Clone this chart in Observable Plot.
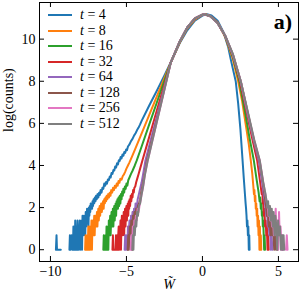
<!DOCTYPE html>
<html><head><meta charset="utf-8">
<script src="https://cdn.jsdelivr.net/npm/d3@7"></script>
<script src="https://cdn.jsdelivr.net/npm/@observablehq/plot@0.6"></script>
<style>
body{margin:0;background:#fff;}
#wrap{position:relative;width:300px;height:300px;font-family:"Liberation Serif",serif;color:#000;}
#wrap svg{display:block;}
.row{position:absolute;left:0;height:16px;}
.row .sw{position:absolute;left:48px;width:24px;height:2px;top:7px;}
.row .lab{position:absolute;left:80px;top:0;font-size:14px;line-height:16px;white-space:nowrap;}
.tag{position:absolute;right:8px;top:11px;font-size:22px;font-weight:bold;line-height:1;}
</style></head><body><div id="wrap"></div>
<script>
const seriesLabels = ["4","8","16","32","64","128","256","512"];
const seriesColors = ["#1f77b4","#ff7f0e","#2ca02c","#d62728","#9467bd","#8c564b","#e377c2","#7f7f7f"];
const xTicks = [-10,-5,0,5];
const yTicks = [0,2,4,6,8,10];

const t4 = [[-9.64,0],[-9.6,0.69],[-9.57,0],[-9.45,0],[-9.4,0],[-9.32,0],[-9.3,null],
[-8.75,0],[-8.72,0.69],[-8.68,0],[-8.6,0.69],[-8.56,0],[-8.52,0],[-8.49,1.1],[-8.46,0],[-8.43,0.69],[-8.4,0],[-8.37,1.39],[-8.34,0.69],[-8.31,0],[-8.28,1.1],[-8.25,0],[-8.22,1.39],[-8.19,0.69],[-8.16,0],[-8.13,1.1],[-8.1,0.69],[-8.07,1.39],[-8.04,0],[-8.01,1.1],[-7.98,0.69],[-7.95,1.39],[-7.92,0],[-7.89,1.61],[-7.86,1.1],[-7.83,0.69],[-7.8,1.61],[-7.77,1.1],[-7.74,1.39],[-7.71,0.69],[-7.68,1.79],[-7.65,1.1],[-7.62,1.39],[-7.59,1.95],[-7.56,1.39],[-7.53,1.79],[-7.5,1.1],[-7.47,2.0],[-7.44,1.61],[-7.41,2.08],[-7.38,1.79],[-7.35,2.2],[-7.32,1.95],[-7.29,2.2],[-7.26,1.95],[-7.23,2.3],[-7.2,2.08],[-7.16,2.4],[-7.12,2.2],[-7.08,2.48],[-7.04,2.3],[-7.0,2.56],[-6.95,2.4],[-6.9,2.64],[-6.85,2.48],[-6.8,2.71],[-6.75,2.6],[-6.7,2.83],[-6.64,2.71],[-6.58,2.94],[-6.52,2.89],[-6.46,3.14],[-6.4,3.04],[-6.34,3.22],[-6.28,3.14],[-6.22,3.33],[-6.16,3.3],[-6.1,3.47],[-6.04,3.43],[-5.98,3.64],[-5.92,3.6],[-5.86,3.78],[-5.8,3.76],[-5.74,3.95],[-5.68,3.9],[-5.62,4.1],[-5.56,4.05],[-5.5,4.25],[-5.44,4.22],[-5.38,4.4],[-5.32,4.34],[-5.26,4.52],[-5.2,4.46],[-5.14,4.64],[-5.08,4.6],[-5.02,4.76],[-4.96,4.73],[-4.9,4.9],[-4.8,5.0],[-4.7,5.16],[-4.6,5.26],[-4.5,5.42],[-4.4,5.53],[-4.3,5.68],[-4.2,5.8],[-4.1,5.95],[-4.0,6.12],[-3.5,6.85],[-3.0,7.55],[-2.5,8.28],[-2.08,8.9],[-1.5,9.8],[-1.0,10.42],[-0.5,10.88],[0,11.12],[0.3,11.18],[0.6,11.12],[1.0,10.87],[1.4,10.3],[1.7,9.6],[1.86,9.05],[2.0,8.6],[2.19,8.0],[2.35,6.95],[2.5,5.7],[2.63,4.35],[2.72,3.4],[2.8,2.6],[2.84,2.2],[2.87,1.95],[2.9,1.61],[2.93,1.1],[2.96,1.39],[2.99,0.69],[3.02,1.1],[3.05,0],[3.08,0.69],[3.1,0]];

const t8 = [[-7.72,0],[-7.69,0.69],[-7.66,0],[-7.6,0],[-7.57,0.69],[-7.54,0],[-7.51,1.1],[-7.48,0],[-7.45,0.69],[-7.42,1.1],[-7.39,0],[-7.36,1.1],[-7.33,0.69],[-7.3,1.39],[-7.27,0],[-7.24,1.1],[-7.21,1.39],[-7.18,0.69],[-7.15,1.1],[-7.12,1.61],[-7.09,0.69],[-7.06,1.39],[-7.03,1.61],[-7.0,1.1],[-6.97,1.39],[-6.94,1.79],[-6.91,1.1],[-6.88,1.61],[-6.85,1.95],[-6.82,1.39],[-6.79,1.79],[-6.76,2.08],[-6.73,1.61],[-6.7,1.95],[-6.66,2.2],[-6.62,1.79],[-6.58,2.08],[-6.54,2.3],[-6.5,1.95],[-6.46,2.4],[-6.42,2.2],[-6.38,2.48],[-6.34,2.3],[-6.3,2.56],[-6.25,2.4],[-6.2,2.64],[-6.15,2.48],[-6.1,2.71],[-6.05,2.56],[-6.0,2.83],[-5.94,2.71],[-5.88,2.94],[-5.82,2.83],[-5.76,3.04],[-5.7,2.94],[-5.64,3.14],[-5.58,3.04],[-5.52,3.26],[-5.46,3.18],[-5.4,3.37],[-5.32,3.33],[-5.24,3.5],[-5.16,3.58],[-5.08,3.71],[-5.0,3.85],[-4.9,4.0],[-4.8,4.15],[-4.6,4.48],[-4.4,4.82],[-4.1,5.35],[-3.6,6.22],[-3.0,7.28],[-2.5,8.16],[-2.08,8.9],[-1.5,9.83],[-1.0,10.5],[-0.5,10.93],[0,11.15],[0.2,11.18],[0.5,11.1],[1.0,10.8],[1.5,10.1],[2.0,9.05],[2.35,8.0],[2.6,7.1],[2.9,5.7],[3.05,5.0],[3.18,4.24],[3.28,3.6],[3.35,3.0],[3.39,2.64],[3.42,2.83],[3.45,2.3],[3.48,2.56],[3.51,1.95],[3.54,2.2],[3.57,1.61],[3.6,1.95],[3.63,1.1],[3.66,1.61],[3.69,0.69],[3.72,1.39],[3.75,0],[3.78,1.1],[3.81,0],[3.84,0.69],[3.87,0]];

const t16 = [[-6.52,0],[-6.49,0.69],[-6.46,0],[-6.4,0],[-6.37,0.69],[-6.34,0],[-6.31,1.1],[-6.28,0],[-6.25,0.69],[-6.22,1.1],[-6.19,0],[-6.16,1.39],[-6.13,0.69],[-6.1,1.1],[-6.07,1.61],[-6.04,0.69],[-6.01,1.39],[-5.98,1.79],[-5.95,1.1],[-5.92,1.61],[-5.89,1.95],[-5.86,1.1],[-5.83,1.79],[-5.8,2.08],[-5.77,1.39],[-5.74,1.95],[-5.71,2.2],[-5.68,1.61],[-5.65,2.3],[-5.62,1.95],[-5.59,2.4],[-5.56,1.95],[-5.52,2.48],[-5.48,2.08],[-5.44,2.56],[-5.4,2.2],[-5.36,2.64],[-5.32,2.4],[-5.28,2.77],[-5.24,2.56],[-5.2,2.89],[-5.15,2.71],[-5.1,3.0],[-5.05,2.89],[-5.0,3.14],[-4.94,3.04],[-4.88,3.3],[-4.8,3.43],[-4.7,3.6],[-4.6,3.75],[-4.45,4.0],[-4.32,4.24],[-4.0,4.9],[-3.5,5.95],[-3.0,6.99],[-2.5,8.03],[-2.08,8.9],[-1.5,9.85],[-1.0,10.53],[-0.5,10.96],[0,11.16],[0.15,11.18],[0.5,11.1],[1.0,10.78],[1.5,10.12],[2.0,9.15],[2.42,8.0],[2.8,6.55],[3.1,5.3],[3.38,4.24],[3.55,3.4],[3.7,2.7],[3.76,2.3],[3.8,2.48],[3.84,1.95],[3.88,2.2],[3.91,1.61],[3.94,1.79],[3.97,1.1],[4.0,1.39],[4.03,0.69],[4.06,0],[4.09,0.69],[4.12,0]];

const t32 = [[-5.92,0],[-5.89,0.69],[-5.86,0],[-5.72,0],[-5.69,0.69],[-5.66,0],[-5.6,0.69],[-5.57,0],[-5.54,0.69],[-5.51,1.1],[-5.48,0],[-5.45,1.1],[-5.42,0.69],[-5.39,1.39],[-5.36,0],[-5.33,1.1],[-5.3,1.61],[-5.27,0.69],[-5.24,1.39],[-5.21,1.1],[-5.18,1.79],[-5.15,0.69],[-5.12,1.61],[-5.09,1.95],[-5.06,1.1],[-5.03,1.79],[-5.0,2.08],[-4.97,1.39],[-4.94,1.95],[-4.91,2.2],[-4.88,1.61],[-4.85,2.3],[-4.82,1.95],[-4.79,2.4],[-4.76,2.08],[-4.72,2.56],[-4.68,2.3],[-4.64,2.64],[-4.6,2.48],[-4.56,2.83],[-4.52,2.71],[-4.48,2.94],[-4.42,3.0],[-4.36,3.2],[-4.28,3.4],[-4.2,3.6],[-4.1,3.85],[-3.95,4.24],[-3.6,5.11],[-3.0,6.61],[-2.5,7.85],[-2.08,8.9],[-1.5,9.87],[-1.0,10.55],[-0.5,10.98],[0,11.16],[0.1,11.18],[0.5,11.1],[1.0,10.77],[1.5,10.15],[2.0,9.22],[2.47,8.0],[3.0,6.2],[3.3,5.2],[3.6,4.24],[3.8,3.2],[3.9,2.64],[3.94,2.83],[3.97,2.2],[4.0,2.4],[4.04,1.61],[4.08,1.95],[4.12,1.1],[4.16,1.39],[4.2,0.69],[4.24,1.1],[4.28,0],[4.32,0.69],[4.36,0]];

const t64 = [[-5.12,0],[-5.08,0.69],[-5.04,0],[-4.98,0.69],[-4.94,0],[-4.9,1.1],[-4.85,0.69],[-4.8,1.39],[-4.75,0.69],[-4.7,1.61],[-4.65,1.1],[-4.6,1.79],[-4.55,1.39],[-4.5,1.95],[-4.45,1.61],[-4.4,2.2],[-4.33,1.95],[-4.26,2.4],[-4.18,2.64],[-4.1,2.9],[-4.0,3.2],[-3.9,3.6],[-3.75,4.24],[-3.4,5.22],[-3.0,6.33],[-2.5,7.73],[-2.08,8.9],[-1.5,9.88],[-1.0,10.56],[-0.5,10.99],[0,11.16],[0.1,11.18],[0.5,11.1],[1.0,10.76],[1.5,10.16],[2.0,9.25],[2.52,8.0],[3.0,6.35],[3.4,5.1],[3.7,4.24],[3.9,3.3],[4.15,2.0],[4.2,1.61],[4.25,1.95],[4.3,1.1],[4.35,1.39],[4.4,0.69],[4.45,1.1],[4.5,0],[4.55,0.69],[4.6,0],[4.62,null],[5.22,0],[5.26,0.69],[5.3,0]];

const t128 = [[-4.92,0],[-4.88,0.69],[-4.84,0],[-4.78,1.1],[-4.73,0.69],[-4.68,1.39],[-4.62,0],[-4.57,1.61],[-4.52,1.1],[-4.47,1.79],[-4.42,1.39],[-4.36,1.95],[-4.3,1.79],[-4.24,2.08],[-4.17,2.2],[-4.1,2.4],[-4.02,2.77],[-3.9,3.2],[-3.78,3.7],[-3.65,4.24],[-3.3,5.28],[-3.0,6.17],[-2.5,7.65],[-2.08,8.9],[-1.5,9.88],[-1.0,10.56],[-0.5,10.99],[0,11.16],[0.1,11.18],[0.5,11.1],[1.0,10.76],[1.5,10.16],[2.0,9.28],[2.52,8.0],[3.0,6.45],[3.4,5.15],[3.75,4.24],[4.0,3.1],[4.2,2.0],[4.25,1.61],[4.3,2.08],[4.36,1.1],[4.42,1.61],[4.48,0.69],[4.54,1.39],[4.6,0.69],[4.66,1.1],[4.72,0],[4.78,0.69],[4.84,0],[4.9,0.69],[4.94,0]];

const t256 = [[-4.72,0],[-4.68,0.69],[-4.63,0],[-4.58,1.1],[-4.53,0.69],[-4.48,1.39],[-4.43,1.1],[-4.38,1.61],[-4.32,1.39],[-4.26,1.95],[-4.2,1.79],[-4.14,2.08],[-4.08,2.3],[-4.0,2.64],[-3.9,3.0],[-3.78,3.6],[-3.6,4.24],[-3.3,5.16],[-3.0,6.08],[-2.5,7.61],[-2.08,8.9],[-1.5,9.88],[-1.0,10.56],[-0.5,10.99],[0,11.16],[0.1,11.18],[0.5,11.1],[1.0,10.76],[1.5,10.16],[2.0,9.28],[2.52,8.0],[3.0,6.45],[3.4,5.2],[3.77,4.24],[4.0,3.2],[4.3,2.0],[4.35,1.61],[4.4,2.08],[4.46,1.39],[4.52,1.79],[4.58,1.1],[4.64,1.61],[4.7,0.69],[4.76,1.1],[4.82,1.95],[4.86,0.69],[4.92,1.39],[4.98,0],[5.04,1.79],[5.08,0.69],[5.14,1.1],[5.2,0],[5.26,0.69],[5.3,0],[5.32,null],[5.5,0],[5.55,0.69],[5.6,0]];

const t512 = [[-4.62,0],[-4.58,0.69],[-4.54,0],[-4.5,1.1],[-4.45,0.69],[-4.4,1.39],[-4.35,1.1],[-4.3,1.79],[-4.24,1.61],[-4.18,2.08],[-4.1,2.2],[-4.02,2.56],[-3.92,2.94],[-3.8,3.5],[-3.6,4.24],[-3.3,5.16],[-3.0,6.08],[-2.5,7.61],[-2.08,8.9],[-1.5,9.88],[-1.0,10.56],[-0.5,10.99],[0,11.16],[0.1,11.18],[0.5,11.1],[1.0,10.76],[1.5,10.17],[2.0,9.3],[2.52,8.0],[3.0,6.5],[3.4,5.25],[3.77,4.24],[4.0,3.2],[4.15,2.64],[4.27,2.0],[4.32,2.3],[4.38,1.61],[4.44,2.08],[4.5,1.39],[4.56,1.95],[4.62,1.1],[4.68,1.79],[4.74,0.69],[4.8,1.61],[4.86,1.1],[4.92,0],[4.98,1.39],[5.04,0.69],[5.1,1.1],[5.16,0],[5.22,0.69],[5.28,0],[5.34,0.69],[5.38,0]];

const allSeries = [t4,t8,t16,t32,t64,t128,t256,t512];
const rows = [];
allSeries.forEach((s,i) => s.forEach(([w,l]) => rows.push({t: seriesLabels[i], w, l})));

const mL = 39, mR = 2, mT = 2, mB = 39, W = 300, H = 300;
const innerW = W - mL - mR, innerH = H - mT - mB, tk = 5;

const chart = Plot.plot({
  width: W, height: H,
  marginLeft: mL, marginRight: mR, marginTop: mT, marginBottom: mB,
  style: {fontFamily: "'Liberation Serif', serif", fontSize: "14px", color: "#000", background: "#fff"},
  x: {domain: [-10.72, 6.32]},
  y: {domain: [-0.56, 11.74]},
  color: {domain: seriesLabels, range: seriesColors},
  marks: [
    Plot.line(rows, {x: "w", y: "l", z: "t", stroke: "t", strokeWidth: 2}),
    Plot.frame({stroke: "#000", strokeWidth: 1}),
    Plot.axisX(xTicks, {tickSize: 0, tickPadding: 5, label: null, fontSize: 14}),
    Plot.axisY(yTicks, {tickSize: 0, tickPadding: 4, label: null, fontSize: 14}),
    Plot.tickX(xTicks, {x: d => d, insetTop: innerH - tk, stroke: "#000"}),
    Plot.tickX(xTicks, {x: d => d, insetBottom: innerH - tk, stroke: "#000"}),
    Plot.tickY(yTicks, {y: d => d, insetRight: innerW - tk, stroke: "#000"}),
    Plot.tickY(yTicks, {y: d => d, insetLeft: innerW - tk, stroke: "#000"}),
    Plot.text(["log(counts)"], {frameAnchor: "left", dx: -31, rotate: -90, fontSize: 14, fill: "#000"}),
    Plot.text(["W\u0303"], {frameAnchor: "bottom", dy: 27, fontSize: 14, fontStyle: "italic", fill: "#000"})
  ]
});

const wrap = document.getElementById("wrap");
wrap.appendChild(chart);

seriesLabels.forEach((lab, i) => {
  const r = document.createElement("div");
  r.className = "row";
  r.style.top = (15 + i * 15.58 - 8) + "px";
  r.innerHTML = `<div class="sw" style="background:${seriesColors[i]}"></div><div class="lab"><i>t</i> = ${lab}</div>`;
  wrap.appendChild(r);
});
const tag = document.createElement("div");
tag.className = "tag";
tag.textContent = "a)";
wrap.appendChild(tag);
</script></body></html>
